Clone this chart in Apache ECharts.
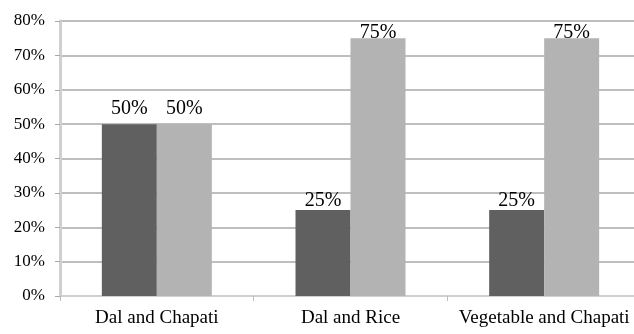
<!DOCTYPE html>
<html>
<head>
<meta charset="utf-8">
<script src="https://cdn.jsdelivr.net/npm/echarts@6/dist/echarts.min.js"></script>
<style>html,body{margin:0;padding:0;background:#fff;}#c{width:634px;height:334px;}</style>
</head>
<body>
<div id="c"></div>
<script>
const categories = ['Dal and Chapati', 'Dal and Rice', 'Vegetable and Chapati'];
const seriesA = [50, 25, 25];
const seriesB = [50, 75, 75];
const yTicks = [0, 10, 20, 30, 40, 50, 60, 70, 80];

const labelDistA = [5, -1, -1];
const labelDistB = [5, -5, -5];
const font = 'Liberation Serif';

function mk(vals, dists) {
  return vals.map((v, i) => ({ value: v, label: { distance: dists[i] } }));
}

const chart = echarts.init(document.getElementById('c'));
chart.setOption({
  animation: false,
  grid: { left: 60, width: 581, top: 21, bottom: 38, containLabel: false, outerBoundsMode: 'none' },
  xAxis: {
    type: 'category',
    data: categories,
    axisLine: { lineStyle: { color: '#cfcfcf', width: 2 } },
    axisTick: { show: true, length: 5, lineStyle: { color: '#bdbdbd' }, alignWithLabel: false },
    axisLabel: { color: '#000', fontFamily: font, fontSize: 19, margin: 13, interval: 0 }
  },
  yAxis: {
    type: 'value',
    min: yTicks[0],
    max: yTicks[yTicks.length - 1],
    interval: 10,
    axisLine: { show: true, lineStyle: { color: '#cfcfcf', width: 3 } },
    axisTick: { show: true, length: 5, lineStyle: { color: '#a8a8a8' } },
    axisLabel: { color: '#000', fontFamily: font, fontSize: 17, margin: 15, formatter: v => v + '%' },
    splitLine: { lineStyle: { color: '#a8a8a8', width: 1.5 } }
  },
  series: [
    {
      type: 'bar', data: mk(seriesA, labelDistA), barWidth: 55, barGap: '0%',
      itemStyle: { color: '#606060' },
      label: { show: true, position: 'top', formatter: '{c}%', color: '#000', fontFamily: font, fontSize: 20 }
    },
    {
      type: 'bar', data: mk(seriesB, labelDistB), barWidth: 55, barGap: '0%',
      itemStyle: { color: '#b3b3b3' },
      label: { show: true, position: 'top', formatter: '{c}%', color: '#000', fontFamily: font, fontSize: 20 }
    }
  ]
});
</script>
</body>
</html>
